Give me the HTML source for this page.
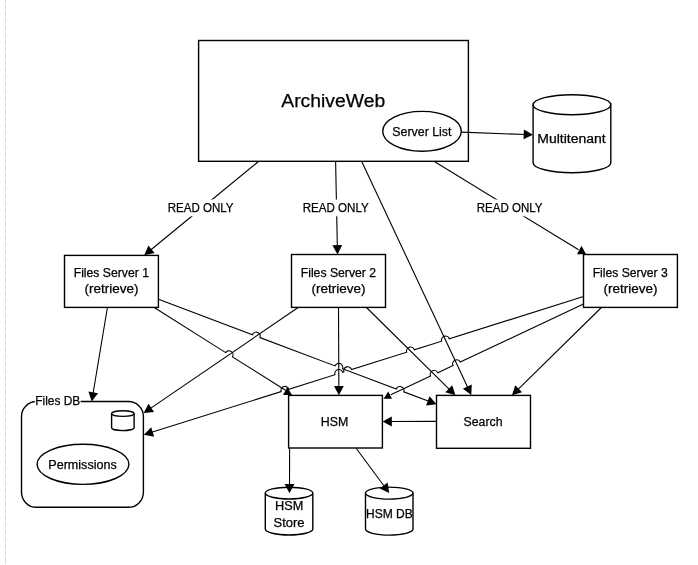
<!DOCTYPE html>
<html><head><meta charset="utf-8"><style>
html,body{margin:0;padding:0;background:#fff;}
svg{display:block;will-change:transform;}
text{font-family:"Liberation Sans",sans-serif;fill:#000;stroke:#000;stroke-width:0.25px;}
</style></head><body>
<svg width="698" height="565" viewBox="0 0 698 565">
<line x1="5.5" y1="0" x2="5.5" y2="565" stroke="#f0f0f0" stroke-width="1"/>
<line x1="5.5" y1="-2" x2="5.5" y2="567" stroke="#d6d6d6" stroke-width="1" stroke-dasharray="4,3"/>
<path d="M258.50,161.50 L150.05,250.48" fill="none" stroke="#000" stroke-width="1.1"/><path d="M144.30,255.20 L154.60,253.09 L148.38,245.51Z" fill="#000"/>
<path d="M335.60,161.30 L337.35,247.06" fill="none" stroke="#000" stroke-width="1.1"/><path d="M337.50,254.50 L342.21,245.10 L332.41,245.30Z" fill="#000"/>
<path d="M434.00,161.30 L578.60,249.80" fill="none" stroke="#000" stroke-width="1.1"/>
<path d="M361.60,161.30 L468.14,388.27" fill="none" stroke="#000" stroke-width="1.1"/><path d="M471.30,395.00 L471.78,384.50 L462.91,388.66Z" fill="#000"/>
<path d="M461.30,132.10 L525.57,134.52" fill="none" stroke="#000" stroke-width="1.1"/><path d="M533.00,134.80 L523.89,129.55 L523.52,139.35Z" fill="#000"/>
<path d="M107.50,307.00 L92.93,394.26" fill="none" stroke="#000" stroke-width="1.1"/><path d="M91.70,401.60 L98.07,393.23 L88.40,391.62Z" fill="#000"/>
<path d="M158.50,299.30 L252.48,334.76 A4.0,4.0 0 0 1 259.97,337.59 L335.03,365.91 A4.0,4.0 0 0 1 342.52,368.74 L396.31,389.03 A4.0,4.0 0 0 1 403.79,391.86 L429.54,401.57" fill="none" stroke="#000" stroke-width="1.1"/><path d="M436.50,404.20 L429.53,396.33 L426.07,405.50Z" fill="#000"/>
<path d="M153.80,307.30 L225.67,352.60 A4.0,4.0 0 0 1 232.44,356.86 L285.50,390.30" fill="none" stroke="#000" stroke-width="1.1"/>
<path d="M298.50,307.30 L149.74,408.90" fill="none" stroke="#000" stroke-width="1.1"/><path d="M143.60,413.10 L154.04,411.90 L148.52,403.81Z" fill="#000"/>
<path d="M338.50,307.00 L338.87,387.86" fill="none" stroke="#000" stroke-width="1.1"/><path d="M338.90,395.30 L343.76,385.98 L333.96,386.02Z" fill="#000"/>
<path d="M366.00,307.00 L450.11,390.07" fill="none" stroke="#000" stroke-width="1.1"/><path d="M455.40,395.30 L452.23,385.28 L445.34,392.25Z" fill="#000"/>
<path d="M583.50,296.60 L449.29,338.78 A4.0,4.0 0 0 0 441.66,341.18 L414.33,349.77 A4.0,4.0 0 0 0 406.70,352.17 L351.55,369.50 A4.0,4.0 0 0 0 343.91,371.90 L342.62,372.31 A4.0,4.0 0 0 0 334.99,374.71 L288.82,389.22 A4.0,4.0 0 0 0 281.18,391.62 L150.90,432.57" fill="none" stroke="#000" stroke-width="1.1"/><path d="M143.80,434.80 L154.14,436.69 L151.20,427.34Z" fill="#000"/>
<path d="M583.50,304.10 L460.28,362.10 A4.0,4.0 0 0 0 453.04,365.51 L437.83,372.67 A4.0,4.0 0 0 0 430.59,376.07 L390.80,394.80" fill="none" stroke="#000" stroke-width="1.1"/>
<path d="M601.90,307.00 L517.31,390.09" fill="none" stroke="#000" stroke-width="1.1"/><path d="M512.00,395.30 L522.07,392.28 L515.20,385.29Z" fill="#000"/>
<path d="M436.50,421.40 L389.94,421.49" fill="none" stroke="#000" stroke-width="1.1"/><path d="M382.50,421.50 L391.81,426.38 L391.79,416.58Z" fill="#000"/>
<path d="M577,254.3 L586,254.3 L581.5,245.8Z" fill="#000"/>
<path d="M283,395 L292,395 L287.3,387Z" fill="#000"/>
<path d="M383.5,398.7 L392,398.7 L388.3,391.5Z" fill="#000"/>
<rect x="166.6" y="199.5" width="68.80000000000001" height="16.80000000000001" fill="#fff"/>
<text x="167.75" y="211.80" font-size="12.5" textLength="65.75" lengthAdjust="spacingAndGlyphs">READ ONLY</text>
<rect x="301.6" y="199.5" width="68.89999999999998" height="16.80000000000001" fill="#fff"/>
<text x="302.75" y="211.80" font-size="12.5" textLength="66.00" lengthAdjust="spacingAndGlyphs">READ ONLY</text>
<rect x="475.5" y="199.5" width="68.89999999999998" height="16.80000000000001" fill="#fff"/>
<text x="476.75" y="211.80" font-size="12.5" textLength="65.75" lengthAdjust="spacingAndGlyphs">READ ONLY</text>
<rect x="198.6" y="40.5" width="269.8" height="120.8" fill="none" stroke="#000" stroke-width="1.4"/>
<text x="281.25" y="106.60" font-size="18" textLength="104.00" lengthAdjust="spacingAndGlyphs">ArchiveWeb</text>
<ellipse cx="422" cy="131.3" rx="39.3" ry="19.9" fill="#fff" stroke="#000" stroke-width="1.4"/>
<text x="392.25" y="135.80" font-size="12.5" textLength="59.25" lengthAdjust="spacingAndGlyphs">Server List</text>
<path d="M533.1,104.7 L533.1,162.7 A38.849999999999966,10 0 0 0 610.8,162.7 L610.8,104.7" fill="#fff" stroke="#000" stroke-width="1.4"/><ellipse cx="571.95" cy="104.7" rx="38.849999999999966" ry="10" fill="#fff" stroke="#000" stroke-width="1.4"/>
<text x="537.25" y="143.00" font-size="12.5" textLength="68.50" lengthAdjust="spacingAndGlyphs">Multitenant</text>
<rect x="64.5" y="255.4" width="93.9" height="51.99999999999997" fill="#fff" stroke="#000" stroke-width="1.4"/>
<text x="73.70" y="276.80" font-size="12.5" textLength="75.25" lengthAdjust="spacingAndGlyphs">Files Server 1</text>
<text x="84.45" y="293.20" font-size="12.5" textLength="54.00" lengthAdjust="spacingAndGlyphs">(retrieve)</text>
<rect x="291.5" y="254.5" width="94.0" height="52.89999999999998" fill="#fff" stroke="#000" stroke-width="1.4"/>
<text x="300.75" y="276.80" font-size="12.5" textLength="75.25" lengthAdjust="spacingAndGlyphs">Files Server 2</text>
<text x="311.50" y="293.20" font-size="12.5" textLength="54.00" lengthAdjust="spacingAndGlyphs">(retrieve)</text>
<rect x="583.5" y="254.5" width="93.89999999999998" height="52.89999999999998" fill="#fff" stroke="#000" stroke-width="1.4"/>
<text x="592.70" y="276.80" font-size="12.5" textLength="75.00" lengthAdjust="spacingAndGlyphs">Files Server 3</text>
<text x="603.45" y="293.20" font-size="12.5" textLength="54.00" lengthAdjust="spacingAndGlyphs">(retrieve)</text>
<rect x="288.6" y="395.4" width="93.8" height="52.6" fill="#fff" stroke="#000" stroke-width="1.4"/>
<text x="320.75" y="426.10" font-size="12.5" textLength="27.50" lengthAdjust="spacingAndGlyphs">HSM</text>
<rect x="436.5" y="395.4" width="94" height="52.9" fill="#fff" stroke="#000" stroke-width="1.4"/>
<text x="463.50" y="425.80" font-size="12.5" textLength="39.00" lengthAdjust="spacingAndGlyphs">Search</text>
<rect x="21.5" y="401.5" width="121.9" height="105.8" rx="15" ry="15" fill="none" stroke="#000" stroke-width="1.4"/>
<rect x="34.8" y="394" width="45.8" height="14" fill="#fff"/>
<text x="35.25" y="405.20" font-size="12.5" textLength="45.00" lengthAdjust="spacingAndGlyphs">Files DB</text>
<path d="M111.6,413.6 L111.6,427.8 A11.25,2.8 0 0 0 134.1,427.8 L134.1,413.6" fill="#fff" stroke="#000" stroke-width="1.4"/><ellipse cx="122.85" cy="413.6" rx="11.25" ry="2.8" fill="#fff" stroke="#000" stroke-width="1.4"/>
<ellipse cx="83" cy="464.3" rx="45.9" ry="20.1" fill="#fff" stroke="#000" stroke-width="1.4"/>
<text x="48.25" y="469.40" font-size="12.5" textLength="68.50" lengthAdjust="spacingAndGlyphs">Permissions</text>
<path d="M265.3,493.09999999999997 L265.3,529.1 A23.75,5.9 0 0 0 312.8,529.1 L312.8,493.09999999999997" fill="#fff" stroke="#000" stroke-width="1.4"/><ellipse cx="289.05" cy="493.09999999999997" rx="23.75" ry="5.9" fill="#fff" stroke="#000" stroke-width="1.4"/>
<text x="275.00" y="509.70" font-size="12.5" textLength="28.25" lengthAdjust="spacingAndGlyphs">HSM</text>
<text x="273.50" y="526.70" font-size="12.5" textLength="31.00" lengthAdjust="spacingAndGlyphs">Store</text>
<path d="M365.5,493.1 L365.5,529.1 A23.75,6 0 0 0 413,529.1 L413,493.1" fill="#fff" stroke="#000" stroke-width="1.4"/><ellipse cx="389.25" cy="493.1" rx="23.75" ry="6" fill="#fff" stroke="#000" stroke-width="1.4"/>
<text x="366.00" y="517.70" font-size="12.5" textLength="46.75" lengthAdjust="spacingAndGlyphs">HSM DB</text>
<path d="M289.60,448.00 L289.52,485.86" fill="none" stroke="#000" stroke-width="1.1"/><path d="M289.50,493.30 L294.42,484.01 L284.62,483.99Z" fill="#000"/>
<path d="M356.00,448.00 L384.78,487.01" fill="none" stroke="#000" stroke-width="1.1"/><path d="M389.20,493.00 L387.62,482.61 L379.74,488.43Z" fill="#000"/>
</svg></body></html>
